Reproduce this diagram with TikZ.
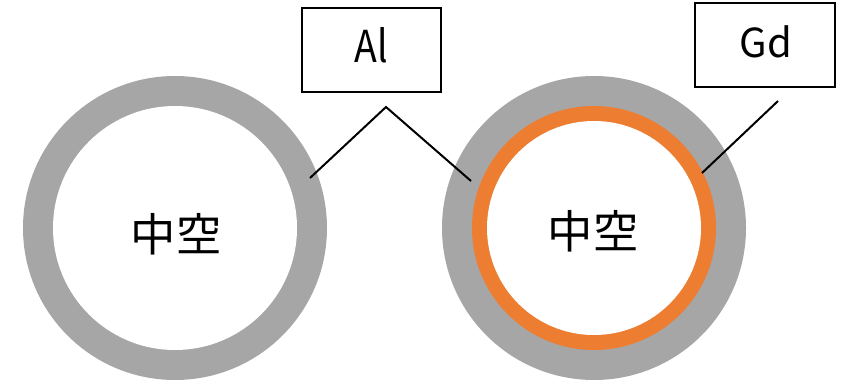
\documentclass[tikz,border=0pt]{standalone}
\usepackage{fontspec}
\setmainfont{Noto Sans CJK JP}
\newfontfamily\narrowfont[FakeStretch=0.85]{Noto Sans CJK JP}
\definecolor{algray}{HTML}{A6A6A6}
\definecolor{gdorange}{HTML}{ED7D31}
\begin{document}
\begin{tikzpicture}[x=0.75pt,y=-0.75pt,
  ring/.style={circle,inner sep=0pt,draw=none},
  labelbox/.style={draw=black,line width=1.5pt,inner sep=0pt},
  leader/.style={draw=black,line width=1.5pt},
  hollow/.style={font=\fontsize{34}{40}\selectfont,inner sep=0pt}]
\useasboundingbox (0,0) rectangle (848,381);
% left ring
\node[ring,fill=algray,minimum size=228pt] (lout) at (175,228) {};
\node[ring,fill=white,minimum size=183pt] (lin) at (175,228) {};
\node[hollow] (ltext) at (176,234) {中空};
% right ring
\node[ring,fill=algray,minimum size=228pt] (rout) at (594,228) {};
\node[ring,fill=gdorange,minimum size=183pt] (rmid) at (594,228) {};
\node[ring,fill=white,minimum size=160.5pt] (rin) at (594,228) {};
\node[hollow] (rtext) at (593,231) {中空};
% label boxes
\node[labelbox,minimum width=104pt,minimum height=63pt] (albox) at (371.5,50) {};
\node[font=\narrowfont\fontsize{33}{38}\selectfont,inner sep=0pt,anchor=base] (al) at (371,63) {Al};
\node[labelbox,minimum width=105pt,minimum height=63pt] (gdbox) at (765,45) {};
\node[font=\fontsize{30}{35}\selectfont,inner sep=0pt,anchor=base] (gd) at (766,58) {Gd};
% leader lines
\coordinate (apex) at (386,107);
\coordinate (alL) at (310,178);
\coordinate (alR) at (471,181);
\coordinate (gdtop) at (778,101);
\coordinate (gdend) at (702,173);
\draw[leader] (alL) -- (apex) -- (alR);
\draw[leader] (gdtop) -- (gdend);
\end{tikzpicture}
\end{document}
